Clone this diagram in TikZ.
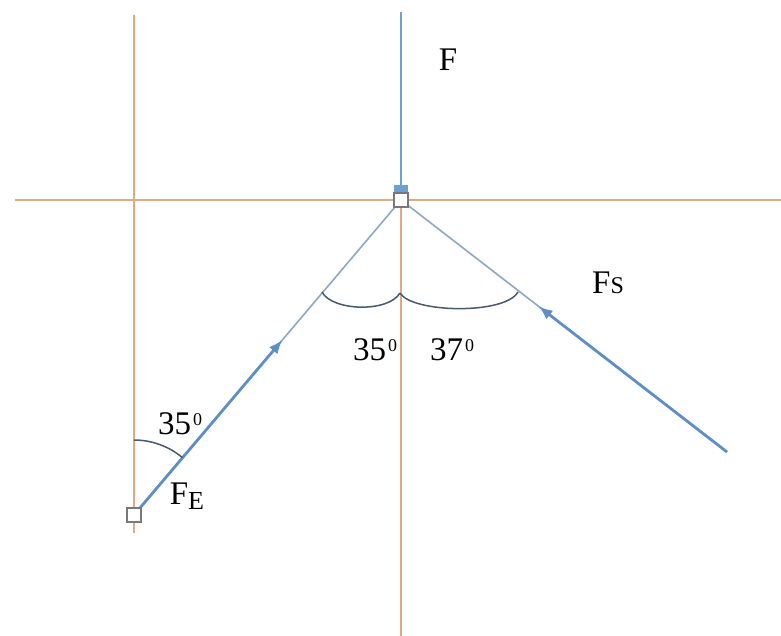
\documentclass[tikz,border=0pt]{standalone}
\usepackage{fontspec}
\setmainfont{Liberation Serif}
\usetikzlibrary{arrows.meta,calc}
\definecolor{axiscol}{RGB}{224,170,132}
\definecolor{fblue}{RGB}{110,160,212}
\definecolor{thinblue}{RGB}{140,168,200}
\definecolor{thickblue}{RGB}{95,142,196}
\definecolor{arccol}{RGB}{70,90,110}
\definecolor{boxcol}{RGB}{120,120,120}
\begin{document}
\begin{tikzpicture}[x=1pt,y=-1pt,
  axisline/.style={draw=axiscol,line width=2.2pt},
  thinline/.style={draw=thinblue,line width=1.6pt},
  forceline/.style={draw=thickblue,line width=2.8pt,-{Latex[length=14pt,width=11pt]}},
  anglearc/.style={draw=arccol,line width=1.5pt},
  pt/.style={draw=boxcol,fill=white,line width=1.2pt,minimum size=14pt,inner sep=0pt,rectangle},
  lbl/.style={font=\fontsize{33}{38}\selectfont,inner sep=0pt}]
\useasboundingbox (0,0) rectangle (781,636);
\fill[white] (0,0) rectangle (781,636);
% axes
\coordinate (hL) at (15,200);
\coordinate (hR) at (781,200);
\coordinate (vLt) at (134,15);
\coordinate (vLb) at (134,533);
\coordinate (vCb) at (401,636);
\coordinate (O0) at (401,200);
\coordinate (E0) at (134,515);
\coordinate (R) at (727,452);
\coordinate (T) at (401,12);
\draw[axisline] (hL) -- (hR);
\draw[axisline] (vLt) -- (vLb);
\draw[axisline] (O0) -- (vCb);
% thin force lines
\draw[thinline] (E0) -- (O0);
\draw[thinline] (R) -- (O0);
% F line
\draw[draw=fblue,line width=2pt] (T) -- (O0);
\fill[fblue] (394,185) rectangle (408,193);
% thick forces
\draw[forceline] (E0) -- ($(E0)!0.556!(O0)$);
\draw[forceline] (R) -- ($(R)!0.578!(O0)$);
% angle arcs
\draw[anglearc] (322,292) .. controls (332,311) and (388,313) .. (400,293);
\draw[anglearc] (400,293) .. controls (412,313) and (505,315) .. (518,292);
\draw[anglearc] (134,440) .. controls (151.6,440) and (168.9,446.3) .. (182.4,457.6);
% points
\node[pt] (O) at (O0) {};
\node[pt] (E) at (E0) {};
% labels
\node[lbl] (lF) at (448,60) {F};
\node[lbl] (lFs) at (608,283) {F{\fontsize{24}{26}\selectfont S}};
\node[lbl] (lFe) at (187,496) {F\raisebox{-5pt}{\fontsize{26}{28}\selectfont E}};
\node[lbl] (a1) at (375,350) {35\kern2pt\raisebox{9pt}{\fontsize{18}{20}\selectfont 0}};
\node[lbl] (a2) at (452,350) {37\kern2pt\raisebox{9pt}{\fontsize{18}{20}\selectfont 0}};
\node[lbl] (a3) at (180,424) {35\kern2pt\raisebox{9pt}{\fontsize{18}{20}\selectfont 0}};
\end{tikzpicture}
\end{document}
